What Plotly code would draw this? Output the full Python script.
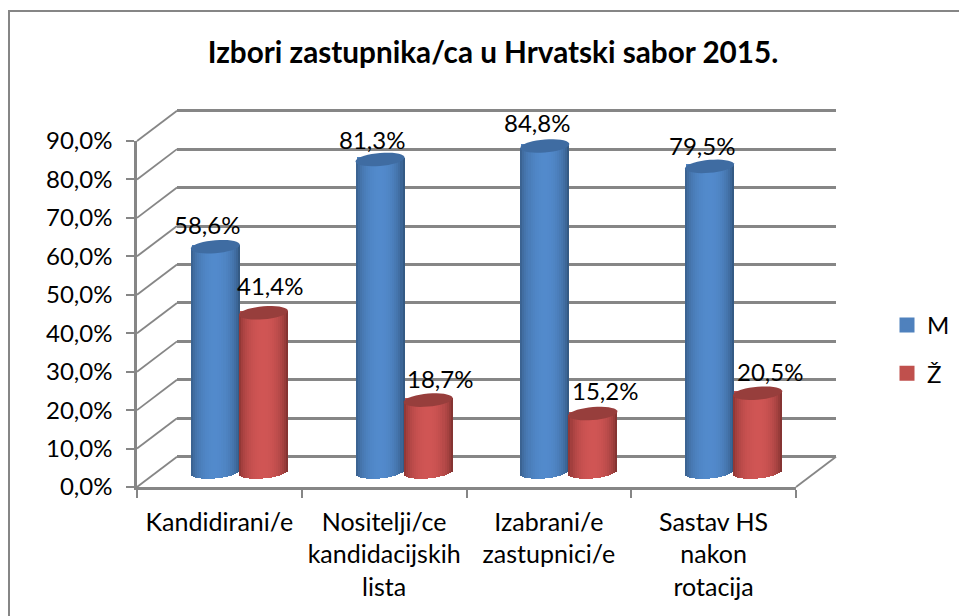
import math
import plotly.graph_objects as go

title = "Izbori zastupnika/ca u Hrvatski sabor 2015."
categories = ["Kandidirani/e", "Nositelji/ce<br>kandidacijskih<br>lista",
              "Izabrani/e<br>zastupnici/e", "Sastav HS<br>nakon<br>rotacija"]
men = [58.6, 81.3, 84.8, 79.5]
women = [41.4, 18.7, 15.2, 20.5]
y_ticks = [0, 10, 20, 30, 40, 50, 60, 70, 80, 90]

W, H = 959, 616
FONT = "Lato"
GRAY = "#868686"
TICK_SIZE = 24
CAT_SIZE = 25
LABEL_SIZE = 24

# pixel geometry of the three planes
FX0, FX1, FY0, FY1 = 137, 796, 487, 141       # front
DX, DY = 40, -30.3                            # depth vector
BAR_Y0 = 472
PX_PER_UNIT = (FY0 - FY1) / 90
BAR_PAD = 6
BAR_W = 49
CAP_B = 6.5
SKEW = 0.08
N = 24

# label nudges (px) relative to each cylinder's top
men_shift = [(-8, 22), (-8, 20), (-8, 23), (-8, 21)]
women_shift = [(7, 27), (12, 22), (12, 23), (12, 22)]


def xdom(a, b):
    return [a / W, b / W]


def ydom(bottom, top):
    return [1 - bottom / H, 1 - top / H]


def lerp(c1, c2, t):
    return "rgb(" + ",".join(str(round(a + (b - a) * t)) for a, b in zip(c1, c2)) + ")"


x_unit = (FX1 - FX0) / 4
bw = BAR_W / x_unit
a_data = bw / 2
b_data = CAP_B / PX_PER_UNIT
sk_data = SKEW * (BAR_W / 2) / PX_PER_UNIT

series = [
    dict(name="M", vals=men, center=-0.146, color="#4F81BD", edgeL=(52, 88, 130), edgeR=(44, 76, 112),
         mid=(82, 138, 204), cap="#3F6CA2", shift=men_shift),
    dict(name="Ž", vals=women, center=0.146, color="#C0504D", edgeL=(130, 48, 46), edgeR=(112, 42, 40),
         mid=(208, 85, 84), cap="#973E3C", shift=women_shift),
]

fig = go.Figure()

shapes = []
annotations = []
for s in series:
    fig.add_trace(go.Bar(
        x=list(range(4)), y=s["vals"], name=s["name"], legendgroup=s["name"],
        width=(BAR_W - BAR_PAD) / x_unit, offset=s["center"] - (BAR_W - BAR_PAD) / x_unit / 2,
        marker=dict(color=s["color"], line=dict(color=s["color"], width=3)),
        xaxis="x3", yaxis="y3", hoverinfo="skip"))
    for j in range(N):
        u0 = -1 + 2 * j / N
        u1 = -1 + 2 * (j + 1) / N
        u = (u0 + u1) / 2
        shade = math.sqrt(max(0, 1 - u ** 2)) ** 1.2
        edge = s["edgeL"] if u < 0 else s["edgeR"]
        base = -b_data * math.sqrt(max(0, 1 - u ** 2)) + sk_data * u
        top = [v + sk_data * u for v in s["vals"]]
        fig.add_trace(go.Bar(
            x=list(range(4)), y=[t - base for t in top], base=base,
            width=(u1 - u0) * a_data, offset=s["center"] + u0 * a_data,
            marker=dict(color=lerp(edge, s["mid"], shade), line=dict(width=0)),
            xaxis="x3", yaxis="y3", showlegend=False, hoverinfo="skip"))
    for i, v in enumerate(s["vals"]):
        cx = i + s["center"]
        pts = []
        for k in range(37):
            t = 2 * math.pi * k / 36
            px = cx + a_data * math.cos(t)
            py = v + b_data * math.sin(t) + sk_data * math.cos(t)
            pts.append(("M" if k == 0 else "L") + f"{px:.4f},{py:.4f}")
        shapes.append(dict(type="path", path=" ".join(pts) + " Z", xref="x3", yref="y3",
                           fillcolor=s["cap"], line=dict(width=0), layer="above"))
        dx, dy = s["shift"][i]
        annotations.append(dict(x=cx, y=v, xref="x3", yref="y3", text=f"{v:.1f}%".replace(".", ","),
                                showarrow=False, xshift=dx, yshift=dy, xanchor="center", yanchor="middle",
                                font=dict(family=FONT, size=LABEL_SIZE, color="black")))

# walls: diagonals from each front tick to the back wall
for v in y_ticks:
    y = FY0 - v * PX_PER_UNIT
    shapes.append(dict(type="line", xref="paper", yref="paper",
                       x0=FX0 / W, y0=1 - y / H, x1=(FX0 + DX) / W, y1=1 - (y + DY) / H,
                       line=dict(color=GRAY, width=1.8), layer="below"))
shapes.append(dict(type="line", xref="paper", yref="paper",
                   x0=FX1 / W, y0=1 - FY0 / H, x1=(FX1 + DX) / W, y1=1 - (FY0 + DY) / H,
                   line=dict(color=GRAY, width=1.8), layer="below"))
# chart frame: only its top and left edges are visible in the picture
shapes.append(dict(type="line", xref="paper", yref="paper", x0=9 / W, x1=1, y0=1 - 11 / H, y1=1 - 11 / H,
                   line=dict(color=GRAY, width=2), layer="below"))
shapes.append(dict(type="line", xref="paper", yref="paper", x0=9 / W, x1=9 / W, y0=0, y1=1 - 10 / H,
                   line=dict(color=GRAY, width=2), layer="below"))

y_text = [f"{v:.1f}%".replace(".", ",") for v in y_ticks]
x_range = [-0.5, 3.5]
boundaries = [-0.5, 0.5, 1.5, 2.5, 3.5]

fig.update_layout(
    width=W, height=H, autosize=False, margin=dict(l=0, r=0, t=0, b=0, pad=0, autoexpand=False),
    paper_bgcolor="white", plot_bgcolor="rgba(0,0,0,0)",
    font=dict(family=FONT, size=TICK_SIZE, color="black"),
    barmode="overlay", bargap=0,
    title=dict(text=f"<b>{title}</b>", x=493 / W, y=1 - 53 / H, xanchor="center", yanchor="middle",
               xref="container", yref="container", font=dict(family=FONT, size=29.7, color="black")),
    xaxis=dict(domain=xdom(FX0, FX1), range=x_range, tickvals=list(range(4)), ticktext=categories,
               showgrid=False, zeroline=False, showline=True, linecolor=GRAY, linewidth=2.5,
               ticks="", ticklabelstandoff=11, anchor="y",
               minor=dict(tickvals=boundaries, ticks="outside", ticklen=8, tickwidth=2, tickcolor=GRAY,
                          showgrid=False),
               tickfont=dict(family=FONT, size=CAT_SIZE)),
    yaxis=dict(domain=ydom(FY0, FY1), range=[0, 90], tickvals=y_ticks, ticktext=y_text,
               showgrid=False, zeroline=False, showline=True, linecolor=GRAY, linewidth=2.5,
               ticks="outside", ticklen=8, tickwidth=2, tickcolor=GRAY, ticklabelstandoff=9,
               anchor="x", tickfont=dict(family=FONT, size=TICK_SIZE)),
    xaxis2=dict(domain=xdom(FX0 + DX, FX1 + DX), range=x_range, showgrid=False, zeroline=False,
                showticklabels=False, ticks="", anchor="y2"),
    yaxis2=dict(domain=ydom(FY0 + DY + 2 * PX_PER_UNIT, FY1 + DY - 2 * PX_PER_UNIT), range=[-2, 92],
                tickvals=y_ticks, showgrid=True,
                gridcolor=GRAY, gridwidth=2.5, zeroline=False, showticklabels=False, ticks="",
                anchor="x2"),
    xaxis3=dict(domain=xdom(FX0 + DX / 2, FX1 + DX / 2), range=x_range, showgrid=False, zeroline=False,
                showticklabels=False, ticks="", anchor="y3"),
    yaxis3=dict(domain=ydom(BAR_Y0 + 6 * PX_PER_UNIT, BAR_Y0 - 90 * PX_PER_UNIT), range=[-6, 90],
                showgrid=False, zeroline=False, showticklabels=False, ticks="", anchor="x3"),
    legend=dict(x=887 / W, y=1 - 303 / H, xanchor="left", yanchor="top", tracegroupgap=14,
                traceorder="grouped", bgcolor="rgba(0,0,0,0)", font=dict(family=FONT, size=TICK_SIZE),
                itemclick=False, itemdoubleclick=False),
    shapes=shapes, annotations=annotations, showlegend=True,
)

# invisible traces so the front and back axes exist
fig.add_trace(go.Scatter(x=[0], y=[0], xaxis="x", yaxis="y", mode="markers", marker=dict(opacity=0),
                         showlegend=False, hoverinfo="skip"))
fig.add_trace(go.Scatter(x=[0], y=[0], xaxis="x2", yaxis="y2", mode="markers", marker=dict(opacity=0),
                         showlegend=False, hoverinfo="skip"))

fig.write_html("out.html", config={"displayModeBar": False},
               post_script="document.body.style.margin='0';document.body.style.overflow='hidden';")
